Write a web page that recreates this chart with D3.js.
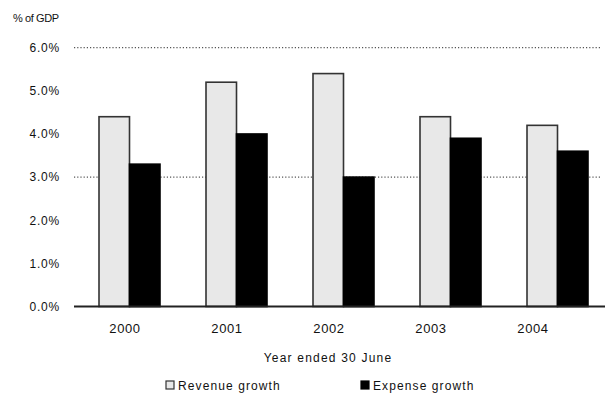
<!DOCTYPE html>
<html>
<head>
<meta charset="utf-8">
<script src="https://cdn.jsdelivr.net/npm/d3@7"></script>
<style>
  html, body { margin: 0; padding: 0; background: #fff; }
  svg { display: block; font-family: "Liberation Sans", Arial, sans-serif; }
</style>
</head>
<body>
<svg id="chart" width="605" height="394"></svg>
<script>
// Fiscal years and the two growth series (% of GDP)
const years = ["2000", "2001", "2002", "2003", "2004"];
const seriesNames = ["Revenue growth", "Expense growth"];
const revenue = [4.4, 5.2, 5.4, 4.4, 4.2];
const expense = [3.3, 4.0, 3.0, 3.9, 3.6];
const yTicks = [0, 1, 2, 3, 4, 5, 6];
const gridValues = [3, 6];

const svg = d3.select("#chart");
const fills = ["#e8e8e8", "#000000"];
const strokes = ["#333333", "#000000"];

const y = d3.scaleLinear().domain([0, 6]).range([306.5, 47.7]);
const x0 = d3.scaleBand().domain(years).range([76, 611]).paddingInner(0.43).paddingOuter(0.215);
const x1 = d3.scaleBand().domain(seriesNames).range([0, x0.bandwidth()]);
// category labels sit on their own evenly spaced band
const xLabel = d3.scaleBand().domain(years).range([74, 584]);

// dotted reference lines
svg.append("g").selectAll("line").data(gridValues).join("line")
  .attr("x1", 74).attr("x2", 600)
  .attr("y1", d => y(d)).attr("y2", d => y(d))
  .attr("stroke", "#555").attr("stroke-width", 1.2)
  .attr("stroke-dasharray", "1.2,2");

// y tick labels
svg.append("g").selectAll("text").data(yTicks).join("text")
  .attr("x", 60).attr("y", d => y(d))
  .attr("dy", "0.36em")
  .attr("text-anchor", "end")
  .attr("font-size", 12).attr("letter-spacing", 0.8)
  .attr("fill", "#111")
  .text(d => d.toFixed(1) + "%");

svg.append("text")
  .attr("x", 13).attr("y", 22)
  .attr("font-size", 11).attr("letter-spacing", -0.4)
  .attr("fill", "#111")
  .text("% of GDP");

// bars
const rows = years.map((yr, i) => ({ year: yr, values: [revenue[i], expense[i]] }));
const groups = svg.append("g").selectAll("g").data(rows).join("g")
  .attr("transform", d => `translate(${x0(d.year)},0)`);
groups.selectAll("rect").data(d => d.values.map((v, k) => ({ key: seriesNames[k], k, v })))
  .join("rect")
  .attr("x", d => x1(d.key))
  .attr("y", d => y(d.v))
  .attr("width", x1.bandwidth())
  .attr("height", d => y(0) - y(d.v))
  .attr("fill", d => fills[d.k])
  .attr("stroke", d => strokes[d.k])
  .attr("stroke-width", 1.6);

// baseline
svg.append("line")
  .attr("x1", 74).attr("x2", 605)
  .attr("y1", y(0)).attr("y2", y(0))
  .attr("stroke", "#222").attr("stroke-width", 2);

// category labels
svg.append("g").selectAll("text").data(years).join("text")
  .attr("x", d => xLabel(d) + xLabel.bandwidth() / 2)
  .attr("y", 333)
  .attr("text-anchor", "middle")
  .attr("font-size", 13).attr("letter-spacing", 0.6)
  .attr("fill", "#111")
  .text(d => d);

svg.append("text")
  .attr("x", 328).attr("y", 362)
  .attr("text-anchor", "middle")
  .attr("font-size", 12).attr("letter-spacing", 1.2)
  .attr("fill", "#111")
  .text("Year ended 30 June");

// legend
const legendX = [166, 361];
const legend = svg.append("g").selectAll("g").data(seriesNames).join("g")
  .attr("transform", (d, i) => `translate(${legendX[i]},381)`);
legend.append("rect")
  .attr("width", 8).attr("height", 8)
  .attr("fill", (d, i) => fills[i])
  .attr("stroke", (d, i) => strokes[i]).attr("stroke-width", 1.2);
legend.append("text")
  .attr("x", 12).attr("y", 9)
  .attr("font-size", 12).attr("letter-spacing", 1.1)
  .attr("fill", "#111")
  .text(d => d);
</script>
</body>
</html>
